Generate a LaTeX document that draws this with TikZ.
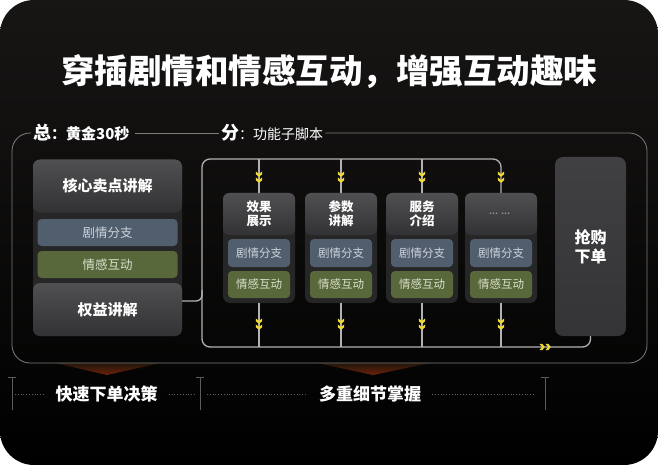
\documentclass[tikz,border=0pt]{standalone}
\usepackage{fontspec}
\setmainfont{Noto Sans CJK SC}
\usetikzlibrary{positioning}

\definecolor{bgtop}{RGB}{24,22,21}
\definecolor{framegray}{RGB}{125,125,125}
\definecolor{flowgray}{RGB}{178,178,178}
\definecolor{cardfill}{RGB}{38,38,39}
\definecolor{boxtop}{RGB}{80,80,82}
\definecolor{boxbot}{RGB}{50,50,52}
\definecolor{buytop}{RGB}{64,64,66}
\definecolor{buybot}{RGB}{52,52,54}
\definecolor{plotblue}{RGB}{80,94,110}
\definecolor{plottext}{RGB}{205,212,220}
\definecolor{emoolive}{RGB}{88,104,58}
\definecolor{emotext}{RGB}{218,224,204}
\definecolor{chevyellow}{RGB}{238,218,48}
\definecolor{markgray}{RGB}{92,92,92}
\definecolor{dotgray}{RGB}{150,150,150}
\definecolor{glowtop}{RGB}{32,22,10}
\definecolor{glowtip}{RGB}{110,34,12}

\tikzset{
    titletext/.style={text=white, font=\bfseries\fontsize{33.5}{38}\selectfont},
    tag/.style={text=white, font=\bfseries\fontsize{15}{17}\selectfont, inner xsep=2pt, inner ysep=0pt},
    frame/.style={draw=framegray, line width=0.8pt},
    flow/.style={draw=flowgray, line width=1.3pt},
    cardbg/.style={fill=cardfill, rounded corners=7pt, inner sep=0pt},
    bigbox/.style={rounded corners=7pt, top color=boxtop, bottom color=boxbot, text=white,
        font=\bfseries\fontsize{15}{18}\selectfont, minimum width=149pt, minimum height=53pt, inner sep=0pt},
    headbox/.style={rounded corners=6pt, top color=boxtop, bottom color=boxbot, text=white, align=center,
        font=\bfseries\fontsize{12.5}{14}\selectfont, minimum width=72pt, minimum height=42pt, inner sep=0pt},
    plotbox/.style={rounded corners=4pt, fill=plotblue, text=plottext,
        font=\fontsize{11.5}{13}\selectfont, minimum width=62pt, minimum height=28pt, inner sep=0pt},
    emobox/.style={rounded corners=4pt, fill=emoolive, text=emotext,
        font=\fontsize{11.5}{13}\selectfont, minimum width=62pt, minimum height=27pt, inner sep=0pt},
    buybox/.style={rounded corners=8pt, top color=buytop, bottom color=buybot, text=white, align=center,
        font=\bfseries\fontsize{16}{19}\selectfont, minimum width=71pt, minimum height=179pt, inner sep=0pt},
    bottomlabel/.style={text=white, font=\bfseries\fontsize{17}{19}\selectfont, inner xsep=11pt},
    marker/.style={draw=markgray, line width=1pt},
    dotline/.style={draw=markgray, dotted, line width=0.8pt},
    glow/.style={top color=glowtop, bottom color=glowtip},
    chevpair/.pic={
        \foreach \dy in {-3,3} {
            \fill[chevyellow] (-3.2,\dy-2.6) -- (0,\dy) -- (3.2,\dy-2.6) -- (3.2,\dy+0.2)
                -- (0,\dy+2.8) -- (-3.2,\dy+0.2) -- cycle;
        }
    }
}

\begin{document}
\begin{tikzpicture}[x=1pt, y=-1pt]
    % Canvas
    \fill[white] (0,0) rectangle (658,465);
    \shade[rounded corners=34pt, top color=bgtop, bottom color=black] (0,0) rectangle (658,465);
    \useasboundingbox (0,0) rectangle (658,465);

    % Title
    \node[titletext] (title) at (329,72) {穿插剧情和情感互动，增强互动趣味};

    % Glow under the frame
    \shade[glow] (55,363) -- (160,363) -- (107,375) -- cycle;
    \shade[glow] (317,363) -- (430,363) -- (373,375) -- cycle;

    % Outer frame with its two tags
    \node[tag, anchor=west] (zong) at (31,133) {{\fontsize{18}{20}\selectfont 总}：黄金30秒};
    \node[tag, anchor=west, font=\fontsize{14}{16}\selectfont] (fen) at (219,133)
        {{\bfseries\fontsize{18}{20}\selectfont 分}：功能子脚本};
    \draw[frame, rounded corners=18pt] (zong.west) -| (12,363) -| (647,133) -- (fen.east);
    \draw[frame, shorten <=3pt] (zong.east) -- (fen.west);

    % Left column
    \node[cardbg, minimum width=149pt, minimum height=176pt] (lcard) at (107.5,248) {};
    \node[bigbox] (core) at (107.5,186) {核心卖点讲解};
    \node[plotbox, minimum width=140pt, minimum height=27pt, font=\fontsize{12.5}{14}\selectfont] (lplot) at (107.5,232.5) {剧情分支};
    \node[emobox, minimum width=140pt, font=\fontsize{12.5}{14}\selectfont] (lemo) at (107.5,264.5) {情感互动};
    \node[bigbox] (quan) at (107.5,309.5) {权益讲解};

    % Function columns
    \foreach \i/\cx/\txt in {
        1/259/{效果\\展示},
        2/341/{参数\\讲解},
        3/422/{服务\\介绍},
        4/501/{\textcolor{dotgray}{\fontsize{8}{9}\selectfont …\hspace{3pt}…}}
    } {
        \node[cardbg, minimum width=72pt, minimum height=110pt] (card\i) at (\cx,248) {};
        \node[headbox] (head\i) at (\cx,214) {\txt};
        \node[plotbox] (plot\i) at (\cx,253) {剧情分支};
        \node[emobox] (emo\i) at (\cx,284.5) {情感互动};
        \coordinate (top\i) at (\cx,159);
        \coordinate (bot\i) at (\cx,347);
        \ifnum\i<4 \draw[flow] (top\i) -- (card\i.north); \fi
        \draw[flow] (card\i.south) -- (bot\i);
    }

    % Order box
    \node[buybox] (buy) at (590.5,246.5) {抢购\\下单};

    % Inner flow frame
    \draw[flow, rounded corners=8pt] (card4.north) |- (202,159) |- (bot4) -| (buy.south);
    \draw[flow, rounded corners=6pt] ([yshift=8.5pt]quan.east) -| (202,290);

    % Chevrons
    \foreach \cx in {259,341,422,501} {
        \pic at (\cx,177) {chevpair};
        \pic at (\cx,324) {chevpair};
    }
    \pic[rotate=90] at (545,347) {chevpair};

    % Bottom markers and labels
    \foreach \n/\mx in {m1/12, m2/200, m3/545} {
        \draw[marker] (\mx-4,377) -- (\mx+4,377) (\mx,377) -- (\mx,410);
        \coordinate (\n) at (\mx,394);
    }
    \node[bottomlabel] (fast) at (106.5,394) {快速下单决策};
    \node[bottomlabel] (detail) at (370,394) {多重细节掌握};
    \draw[dotline, shorten <=3pt] (m1) -- (fast);
    \draw[dotline, shorten >=5pt] (fast) -- (m2);
    \draw[dotline, shorten <=7pt] (m2) -- (detail);
    \draw[dotline, shorten >=10pt] (detail) -- (m3);
\end{tikzpicture}
\end{document}
